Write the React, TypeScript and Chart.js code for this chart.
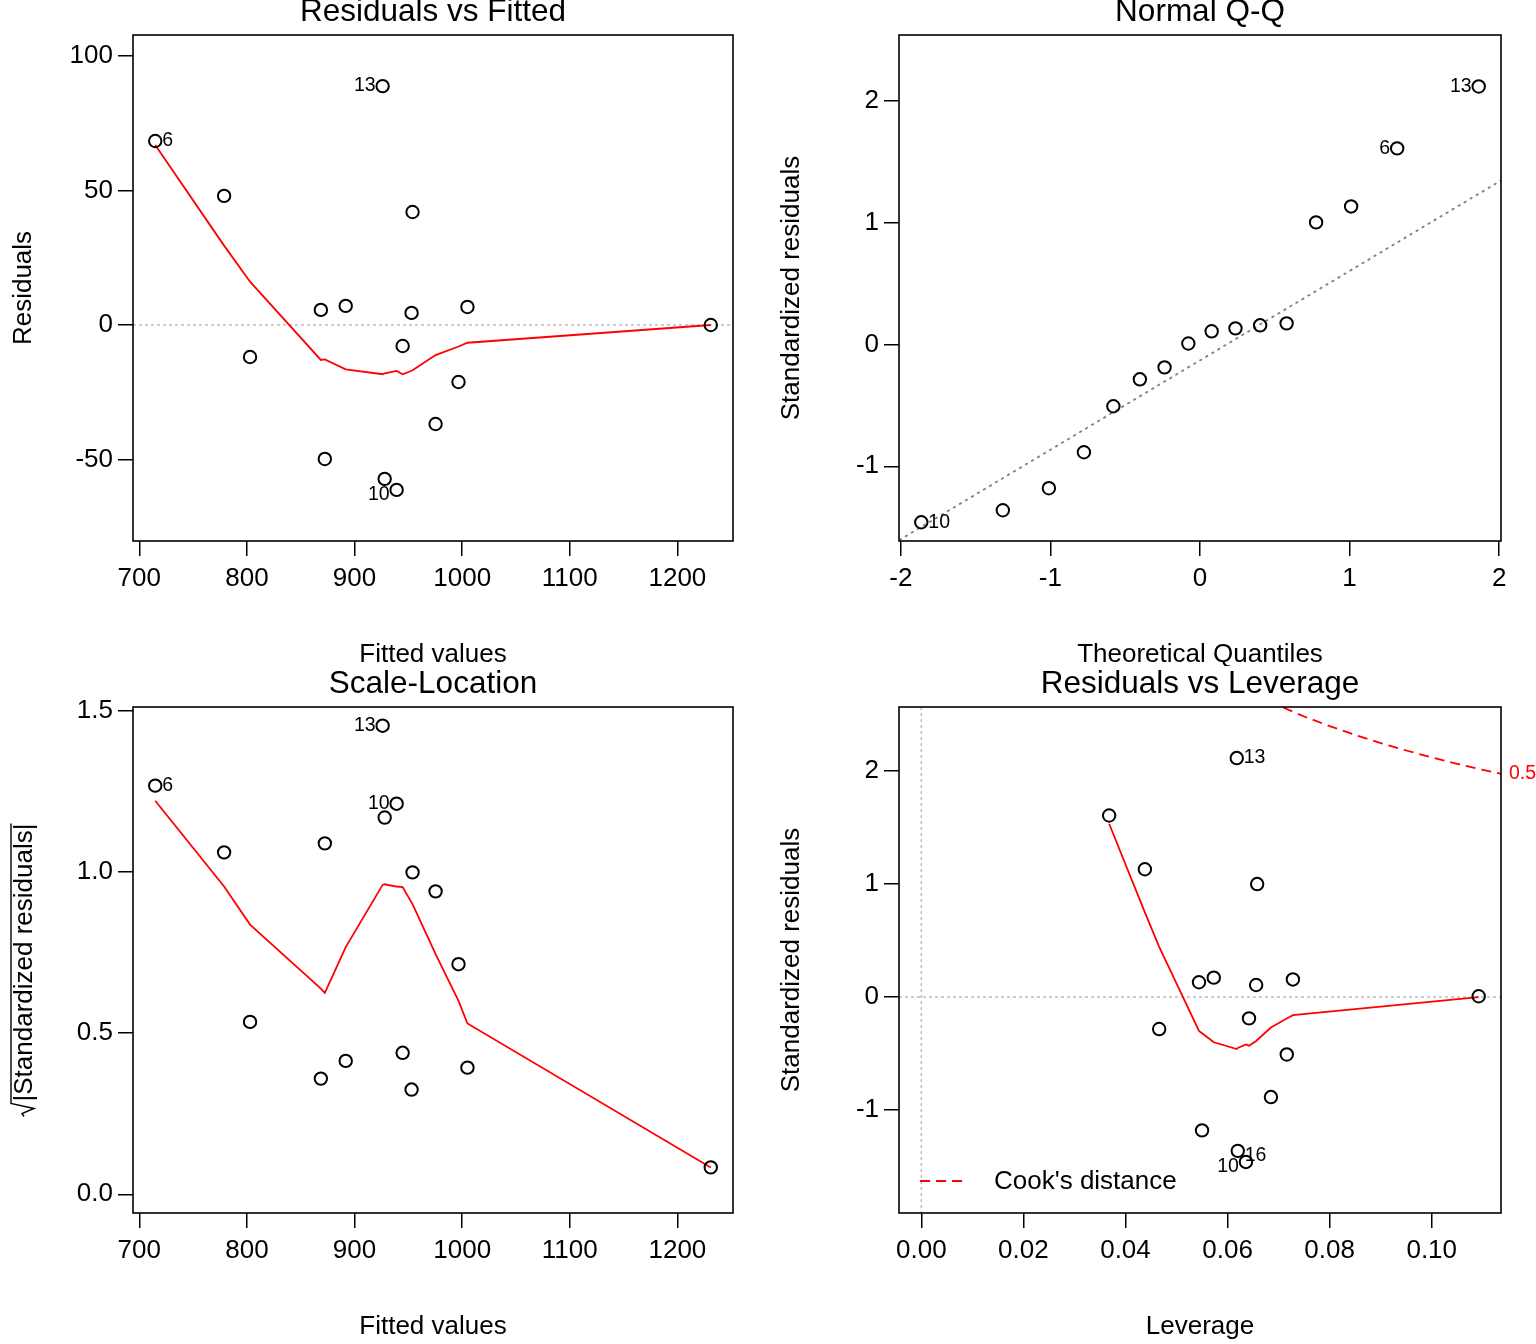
import React, { useEffect, useRef } from "react";
import { Chart, registerables } from "chart.js";

Chart.register(...registerables);

const FONT = '"Liberation Sans", Arial, Helvetica, sans-serif';
const BASE_SIZE = 26;
const TITLE_SIZE = 31.5;
const ID_SIZE = 19.5;

// ---------- observations (ordered by fitted value) ----------
const fittedValues = [714.8, 778.8, 802.9, 868.7, 872.4, 891.8, 926.1, 928.0, 939.1, 944.7, 953.9, 953.0, 975.3, 996.6, 1004.9, 1231.0];
const residualValues = [68.4, 48.0, -11.9, 5.6, -49.8, 7.1, 88.8, -57.2, -61.3, -7.8, 42.0, 4.5, -36.8, -21.2, 6.7, 0.0];
const stdResiduals = [1.607, 1.131, -0.283, 0.131, -1.18, 0.172, 2.115, -1.361, -1.459, -0.189, 1.0, 0.107, -0.885, -0.508, 0.156, 0.007];
const sqrtAbsStdResiduals = [1.268, 1.061, 0.535, 0.359, 1.089, 0.414, 1.454, 1.169, 1.212, 0.439, 0.999, 0.325, 0.94, 0.714, 0.393, 0.0835];
const leverageValues = [0.0368, 0.0438, 0.0466, 0.0544, 0.055, 0.0573, 0.0618, 0.062, 0.0636, 0.0642, 0.0658, 0.0656, 0.0685, 0.0716, 0.0728, 0.1092];
const obsIds = ["6", "", "", "", "", "", "13", "16", "10", "", "", "", "", "", "", ""];

const shownResidIds = ["6", "13", "10"];
const shownLeverageIds = ["13", "16", "10"];

// ---------- smoothers (red lines) ----------
const smoothFittedX = [714.8, 778.8, 802.9, 868.7, 872.4, 891.8, 926.1, 928.0, 939.1, 944.7, 953.0, 953.9, 975.3, 996.6, 1004.9, 1231.0];
const smoothResiduals = [66.9, 29.5, 16.1, -13.0, -12.8, -16.5, -18.3, -18.0, -17.1, -18.3, -17.0, -16.8, -11.2, -8.0, -6.6, 0.0];
const smoothScaleLocation = [1.221, 0.955, 0.837, 0.638, 0.625, 0.767, 0.96, 0.962, 0.955, 0.953, 0.905, 0.9, 0.745, 0.6, 0.53, 0.083];
const smoothLeverageX = [0.0368, 0.0438, 0.0466, 0.0544, 0.055, 0.0573, 0.0618, 0.062, 0.0636, 0.0642, 0.0656, 0.0658, 0.0685, 0.0716, 0.0728, 0.1092];
const smoothLeverageY = [1.534, 0.75, 0.445, -0.3, -0.32, -0.4, -0.46, -0.45, -0.42, -0.43, -0.39, -0.38, -0.27, -0.19, -0.16, 0.0];

// ---------- normal Q-Q ----------
const theoreticalQuantiles = [-1.863, -1.318, -1.01, -0.776, -0.579, -0.402, -0.237, -0.078, 0.078, 0.237, 0.402, 0.579, 0.776, 1.01, 1.318, 1.863];
const sortedStdResiduals = [-1.459, -1.361, -1.18, -0.885, -0.508, -0.287, -0.189, 0.007, 0.107, 0.131, 0.156, 0.172, 1.0, 1.131, 1.607, 2.115];
const qqIds = ["10", "", "", "", "", "", "", "", "", "", "", "", "", "", "6", "13"];
const qqLineX = [-2.012, 2.012];
const qqLineY = [-1.607, 1.344];

// ---------- Cook's distance 0.5 contour ----------
const cookLeverage = [0.068, 0.075, 0.08, 0.085, 0.09, 0.095, 0.1, 0.105, 0.11, 0.1136];
const cookStdResid = [2.618, 2.483, 2.398, 2.32, 2.248, 2.182, 2.121, 2.064, 2.011, 1.975];
const cookLevelLabel = "0.5";

// ---------- ticks ----------
const fittedTicks = [700, 800, 900, 1000, 1100, 1200];
const residualTicks = [-50, 0, 50, 100];
const quantileTicks = [-2, -1, 0, 1, 2];
const stdResidTicks = [-1, 0, 1, 2];
const sqrtTicks = [0, 0.5, 1.0, 1.5];
const leverageTicks = [0, 0.02, 0.04, 0.06, 0.08, 0.1];

const pts = (xs: number[], ys: number[]) => xs.map((x, i) => ({ x, y: ys[i] }));

const pointDataset = (xs: number[], ys: number[]) => ({
  data: pts(xs, ys),
  showLine: false,
  pointRadius: 6.2,
  pointHoverRadius: 6.2,
  pointBorderWidth: 2,
  pointBorderColor: "#000",
  pointBackgroundColor: "rgba(0,0,0,0)",
  borderColor: "#000",
  backgroundColor: "rgba(0,0,0,0)",
  order: 0,
});

const lineDataset = (xs: number[], ys: number[], color: string, width: number, dash: number[]) => ({
  data: pts(xs, ys),
  showLine: true,
  pointRadius: 0,
  pointHoverRadius: 0,
  borderColor: color,
  backgroundColor: color,
  borderWidth: width,
  borderDash: dash,
  tension: 0,
  fill: false,
  order: 1,
});

type Spec = {
  left: number; top: number; width: number; height: number;
  area: { l: number; t: number; r: number; b: number };
  xMin: number; xMax: number; yMin: number; yMax: number;
  xTicks: number[]; yTicks: number[];
  xFmt: (v: number) => string; yFmt: (v: number) => string;
  datasets: any[];
  title: string; titleY: number; xTitle: string; xTitleY: number;
  yTitle: string; yTitleCenter?: number; sqrtLabel?: boolean;
  hLine0?: boolean; vLine0?: boolean;
  ids: { xs: number[]; ys: number[]; ids: string[]; shown: string[]; shiftNeg: boolean };
  legend?: boolean; cookLabel?: boolean;
};

function drawIds(chart: any, spec: Spec) {
  const { ctx } = chart;
  const xs = chart.scales.x, ys = chart.scales.y;
  const d = spec.ids;
  const idx: number[] = [];
  d.ids.forEach((id, i) => { if (id && d.shown.includes(id)) idx.push(i); });
  const lx = idx.map((i) => d.xs[i]);
  const mid = (Math.min(...lx) + Math.max(...lx)) / 2;
  ctx.save();
  ctx.font = `${ID_SIZE}px ${FONT}`;
  ctx.fillStyle = "#000";
  ctx.textBaseline = "middle";
  for (const i of idx) {
    const px = xs.getPixelForValue(d.xs[i]);
    let py = ys.getPixelForValue(d.ys[i]);
    if (d.shiftNeg && d.ys[i] < 0) py += 5;
    if (d.xs[i] > mid) { ctx.textAlign = "right"; ctx.fillText(d.ids[i], px - 7, py); }
    else { ctx.textAlign = "left"; ctx.fillText(d.ids[i], px + 7, py); }
  }
  ctx.restore();
}

function drawSqrtLabel(ctx: CanvasRenderingContext2D, text: string, baseX: number, centerY: number) {
  ctx.save();
  ctx.font = `${BASE_SIZE}px ${FONT}`;
  const w = ctx.measureText(text).width;
  const radW = 15;
  const total = radW + w;
  ctx.translate(baseX, centerY);
  ctx.rotate(-Math.PI / 2);
  const x0 = -total / 2;
  const top = -21;
  ctx.strokeStyle = "#000";
  ctx.lineWidth = 1.4;
  ctx.beginPath();
  ctx.moveTo(x0, -8);
  ctx.lineTo(x0 + 3, -10);
  ctx.lineTo(x0 + 8, 2);
  ctx.lineTo(x0 + 13, top);
  ctx.lineTo(x0 + total, top);
  ctx.stroke();
  ctx.fillStyle = "#000";
  ctx.textAlign = "left";
  ctx.textBaseline = "alphabetic";
  ctx.fillText(text, x0 + radW, 0);
  ctx.restore();
}

function buildConfig(spec: Spec): any {
  const plugin = {
    id: "rdiag",
    beforeDatasetsDraw(chart: any) {
      const { ctx, chartArea: a } = chart;
      ctx.save();
      ctx.beginPath();
      ctx.rect(a.left, a.top, a.right - a.left, a.bottom - a.top);
      ctx.clip();
      ctx.strokeStyle = "#BEBEBE";
      ctx.lineWidth = 1.5;
      ctx.setLineDash([3, 3]);
      if (spec.hLine0) {
        const y = chart.scales.y.getPixelForValue(0);
        ctx.beginPath(); ctx.moveTo(a.left, y); ctx.lineTo(a.right, y); ctx.stroke();
      }
      if (spec.vLine0) {
        const x = chart.scales.x.getPixelForValue(0);
        ctx.beginPath(); ctx.moveTo(x, a.top); ctx.lineTo(x, a.bottom); ctx.stroke();
      }
      ctx.restore();
    },
    afterDatasetsDraw(chart: any) {
      drawIds(chart, spec);
    },
    afterDraw(chart: any) {
      const { ctx, chartArea: a } = chart;
      ctx.save();
      ctx.strokeStyle = "#000";
      ctx.lineWidth = 1.6;
      ctx.setLineDash([]);
      ctx.strokeRect(a.left, a.top, a.right - a.left, a.bottom - a.top);
      const cx = (a.left + a.right) / 2;
      const cy = (a.top + a.bottom) / 2;
      ctx.fillStyle = "#000";
      ctx.textAlign = "center";
      ctx.textBaseline = "alphabetic";
      ctx.font = `${TITLE_SIZE}px ${FONT}`;
      ctx.fillText(spec.title, cx, spec.titleY);
      ctx.font = `${BASE_SIZE}px ${FONT}`;
      ctx.fillText(spec.xTitle, cx, spec.xTitleY);
      if (spec.sqrtLabel) {
        drawSqrtLabel(ctx, spec.yTitle, 32, spec.yTitleCenter ?? cy);
      } else {
        ctx.save();
        ctx.translate(31, spec.yTitleCenter ?? cy);
        ctx.rotate(-Math.PI / 2);
        ctx.fillText(spec.yTitle, 0, 0);
        ctx.restore();
      }
      if (spec.legend) {
        const ly = a.bottom - 32;
        ctx.strokeStyle = "#FF0000";
        ctx.lineWidth = 1.8;
        ctx.setLineDash([10, 6]);
        ctx.beginPath(); ctx.moveTo(a.left + 21, ly); ctx.lineTo(a.left + 64, ly); ctx.stroke();
        ctx.setLineDash([]);
        ctx.textAlign = "left";
        ctx.textBaseline = "middle";
        ctx.fillStyle = "#000";
        ctx.fillText("Cook's distance", a.left + 95, ly + 1);
      }
      if (spec.cookLabel) {
        const y = chart.scales.y.getPixelForValue(cookStdResid[cookStdResid.length - 1]);
        ctx.font = `${ID_SIZE}px ${FONT}`;
        ctx.fillStyle = "#FF0000";
        ctx.textAlign = "left";
        ctx.textBaseline = "middle";
        ctx.fillText(cookLevelLabel, a.right + 8, y);
      }
      ctx.restore();
    },
  };

  const axisCommon = {
    type: "linear",
    grid: {
      display: true,
      drawOnChartArea: false,
      drawTicks: true,
      tickLength: 15,
      color: "#000",
      lineWidth: 1.5,
    },
    border: { display: false },
  };

  return {
    type: "scatter",
    data: { datasets: spec.datasets },
    plugins: [plugin],
    options: {
      responsive: false,
      maintainAspectRatio: false,
      animation: false,
      events: [],
      layout: { padding: { left: 0, right: spec.width - spec.area.r, top: spec.area.t, bottom: 0 } },
      plugins: { legend: { display: false }, tooltip: { enabled: false }, title: { display: false } },
      scales: {
        x: {
          ...axisCommon,
          min: spec.xMin,
          max: spec.xMax,
          afterBuildTicks: (s: any) => { s.ticks = spec.xTicks.map((v) => ({ value: v })); },
          afterFit: (s: any) => { s.height = spec.height - spec.area.b; },
          ticks: {
            color: "#000",
            font: { family: FONT, size: BASE_SIZE },
            padding: 7,
            maxRotation: 0,
            minRotation: 0,
            autoSkip: false,
            callback: (v: any) => spec.xFmt(Number(v)),
          },
        },
        y: {
          ...axisCommon,
          min: spec.yMin,
          max: spec.yMax,
          afterBuildTicks: (s: any) => { s.ticks = spec.yTicks.map((v) => ({ value: v })); },
          afterFit: (s: any) => { s.width = spec.area.l; },
          ticks: {
            color: "#000",
            font: { family: FONT, size: BASE_SIZE },
            padding: 5,
            autoSkip: false,
            callback: (v: any) => spec.yFmt(Number(v)),
          },
        },
      },
    },
  };
}

const TOP_H = 666;
const BOT_H = 678;
const topArea = (l: number) => ({ l, t: 35, r: 733, b: 541 });
const botArea = (l: number) => ({ l, t: 41, r: 733, b: 547 });
const intFmt = (v: number) => String(Math.round(v));

const specs: Spec[] = [
  {
    left: 0, top: 0, width: 768, height: TOP_H, area: topArea(133),
    xMin: 694.15, xMax: 1251.65, yMin: -80.3, yMax: 107.8,
    xTicks: fittedTicks, yTicks: residualTicks, xFmt: intFmt, yFmt: intFmt,
    datasets: [
      pointDataset(fittedValues, residualValues),
      lineDataset(smoothFittedX, smoothResiduals, "#FF0000", 1.8, []),
    ],
    title: "Residuals vs Fitted", titleY: 21, xTitle: "Fitted values", xTitleY: 662,
    yTitle: "Residuals", hLine0: true,
    ids: { xs: fittedValues, ys: residualValues, ids: obsIds, shown: shownResidIds, shiftNeg: true },
  },
  {
    left: 768, top: 0, width: 768, height: TOP_H, area: topArea(131),
    xMin: -2.012, xMax: 2.012, yMin: -1.613, yMax: 2.537,
    xTicks: quantileTicks, yTicks: stdResidTicks, xFmt: intFmt, yFmt: intFmt,
    datasets: [
      pointDataset(theoreticalQuantiles, sortedStdResiduals),
      lineDataset(qqLineX, qqLineY, "#7F7F7F", 1.8, [3, 4]),
    ],
    title: "Normal Q-Q", titleY: 21, xTitle: "Theoretical Quantiles", xTitleY: 662,
    yTitle: "Standardized residuals",
    ids: { xs: theoreticalQuantiles, ys: sortedStdResiduals, ids: qqIds, shown: shownResidIds, shiftNeg: false },
  },
  {
    left: 0, top: TOP_H, width: 768, height: BOT_H, area: botArea(133),
    xMin: 694.15, xMax: 1251.65, yMin: -0.058, yMax: 1.512,
    xTicks: fittedTicks, yTicks: sqrtTicks, xFmt: intFmt, yFmt: (v) => v.toFixed(1),
    datasets: [
      pointDataset(fittedValues, sqrtAbsStdResiduals),
      lineDataset(smoothFittedX, smoothScaleLocation, "#FF0000", 1.8, []),
    ],
    title: "Scale-Location", titleY: 27, xTitle: "Fitted values", xTitleY: 668,
    yTitle: "|Standardized residuals|", sqrtLabel: true, yTitleCenter: 304,
    ids: { xs: fittedValues, ys: sqrtAbsStdResiduals, ids: obsIds, shown: shownResidIds, shiftNeg: false },
  },
  {
    left: 768, top: TOP_H, width: 768, height: BOT_H, area: botArea(131),
    xMin: -0.00437, xMax: 0.11357, yMin: -1.911, yMax: 2.567,
    xTicks: leverageTicks, yTicks: stdResidTicks, xFmt: (v) => v.toFixed(2), yFmt: intFmt,
    datasets: [
      pointDataset(leverageValues, stdResiduals),
      lineDataset(smoothLeverageX, smoothLeverageY, "#FF0000", 1.8, []),
      lineDataset(cookLeverage, cookStdResid, "#FF0000", 1.8, [10, 6]),
    ],
    title: "Residuals vs Leverage", titleY: 27, xTitle: "Leverage", xTitleY: 668,
    yTitle: "Standardized residuals", hLine0: true, vLine0: true, legend: true, cookLabel: true,
    ids: { xs: leverageValues, ys: stdResiduals, ids: obsIds, shown: shownLeverageIds, shiftNeg: true },
  },
];

function Panel({ spec }: { spec: Spec }) {
  const ref = useRef<HTMLCanvasElement>(null);
  useEffect(() => {
    const chart = new Chart(ref.current as HTMLCanvasElement, buildConfig(spec));
    return () => chart.destroy();
  }, []);
  return (
    <canvas
      ref={ref}
      width={spec.width}
      height={spec.height}
      style={{ position: "absolute", left: spec.left, top: spec.top, width: spec.width, height: spec.height }}
    />
  );
}

export default function App() {
  return (
    <div style={{ position: "absolute", left: 0, top: 0, width: 1536, height: 1344, background: "#fff" }}>
      {specs.map((s, i) => (
        <Panel key={i} spec={s} />
      ))}
    </div>
  );
}
